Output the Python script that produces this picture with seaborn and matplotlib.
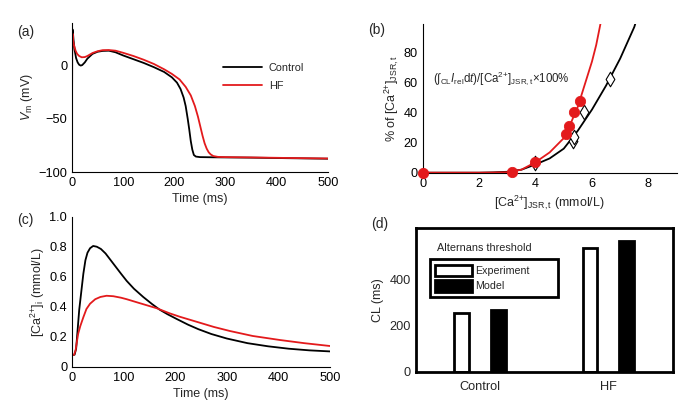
import numpy as np
import pandas as pd
import matplotlib
matplotlib.use("Agg")
import matplotlib.pyplot as plt
import seaborn as sns
from matplotlib.patches import Patch

# ---------------- data ----------------
# (a) action potentials
ap_t_control = [0, 0.3, 1, 2, 3, 5, 8, 11, 14, 17, 20, 25, 30, 40, 50, 60, 72, 85, 100, 120, 140, 160,
                180, 195, 205, 212, 218, 222, 226, 229, 232, 235, 238, 242, 250, 280, 350, 420, 500]
ap_v_control = [-86, 10, 34, 30, 24, 15, 7, 3, 0.8, 0, 0.5, 3, 6.5, 11, 13, 13.8, 14, 12.5, 9.5, 6, 2.5, -1.5,
                -6, -11, -16, -22, -30, -38, -50, -60, -71, -79, -84, -85.5, -86, -86.2, -86.5, -87, -87.5]
ap_t_hf = [0, 0.3, 1, 2, 4, 7, 10, 14, 19, 25, 30, 40, 50, 60, 72, 85, 100, 120, 140, 160, 180, 195, 210,
           222, 232, 240, 246, 251, 255, 259, 263, 267, 271, 276, 285, 300, 350, 420, 500]
ap_v_hf = [-86, 10, 30, 24, 19, 14, 11, 9, 7.8, 8, 9, 11.8, 13.5, 14.5, 14.6, 14, 12, 9, 5.5, 1.5, -3.5, -7.8, -13,
           -20, -28, -38, -48, -58, -66, -73, -78, -81.5, -83.5, -85, -85.8, -86, -86.3, -86.8, -87.3]

# (b) fractional release
fit_x_control = [0, 1, 2, 2.5, 3, 3.5, 4, 4.5, 5, 5.5, 6, 6.5, 7, 7.5, 7.6]
fit_y_control = [0, 0, 0, 0.2, 0.6, 2, 5.5, 9.5, 16, 28, 42, 58, 76, 97, 103]
fit_x_hf = [0, 1, 2, 2.5, 3, 3.5, 4, 4.5, 5, 5.25, 5.5, 5.75, 6, 6.15, 6.3, 6.35]
fit_y_hf = [0, 0, 0, 0.1, 0.3, 2, 7, 13.5, 23, 33, 44, 59, 74, 85, 99, 104]
model_x = [0, 3.16, 3.98, 5.08, 5.19, 5.38, 5.58]
model_y = [0, 0.5, 7.4, 25.6, 31.3, 40.7, 48]
exp_x = [3.98, 5.31, 5.38, 5.70, 6.64]
exp_y = [6.3, 21.3, 23.6, 40.3, 62.5]

# (c) calcium transients
ca_t_control = [0, 5, 8, 11, 14, 18, 22, 26, 30, 35, 41, 48, 56, 65, 75, 85, 95, 106, 120, 138, 155, 170,
                185, 203, 225, 245, 270, 300, 340, 380, 420, 460, 500]
ca_v_control = [0.078, 0.08, 0.12, 0.25, 0.38, 0.50, 0.62, 0.71, 0.76, 0.79, 0.805, 0.80, 0.785, 0.755,
                0.71, 0.665, 0.62, 0.572, 0.52, 0.465, 0.418, 0.38, 0.35, 0.318, 0.28, 0.25, 0.218,
                0.188, 0.157, 0.136, 0.12, 0.109, 0.102]
ca_t_hf = [0, 4, 7, 9, 12, 16, 22, 28, 35, 45, 55, 67, 80, 95, 106, 130, 164, 190, 209, 245, 275, 306, 350,
           403, 450, 500]
ca_v_hf = [0.078, 0.08, 0.11, 0.156, 0.22, 0.27, 0.33, 0.385, 0.42, 0.45, 0.465, 0.473, 0.47, 0.46, 0.45,
           0.425, 0.39, 0.355, 0.333, 0.296, 0.265, 0.238, 0.205, 0.178, 0.157, 0.138]

# (d) alternans threshold
conditions = ["Control", "Control", "HF", "HF"]
sources = ["Experiment", "Model", "Experiment", "Model"]
cl_values = [255, 268, 533, 566]

# ---------------- style ----------------
sns.set_style("white")
FONT = "Liberation Sans"
plt.rcParams["font.family"] = [FONT, "DejaVu Sans"]
plt.rcParams["mathtext.fontset"] = "custom"
plt.rcParams["mathtext.rm"] = FONT
plt.rcParams["mathtext.it"] = FONT + ":italic"
plt.rcParams["mathtext.bf"] = FONT + ":bold"
plt.rcParams["mathtext.sf"] = FONT

RED = "#e31a1c"
FS = 9.2      # tick labels
LFS = 9       # axis labels

fig = plt.figure(figsize=(6.97, 4.17), dpi=100)

CA = r"[Ca$^{2{+}}$]"


def style_axes(ax):
    for s in ["top", "right"]:
        ax.spines[s].set_visible(False)
    for s in ["left", "bottom"]:
        ax.spines[s].set_color("black")
        ax.spines[s].set_linewidth(0.8)
    ax.tick_params(direction="in", length=3, width=0.8, labelsize=FS, colors="black")


# (a)
axa = fig.add_axes([0.1033, 0.5875, 0.3673, 0.3573])
sns.lineplot(x=ap_t_control, y=ap_v_control, color="black", lw=1.3, label="Control",
             estimator=None, sort=False, ax=axa)
sns.lineplot(x=ap_t_hf, y=ap_v_hf, color=RED, lw=1.3, label="HF",
             estimator=None, sort=False, ax=axa)
axa.set_xlim(0, 500)
axa.set_ylim(-100, 40)
axa.set_xticks([0, 100, 200, 300, 400, 500])
axa.set_yticks([-100, -50, 0])
axa.set_yticklabels(["\u2212100", "\u221250", "0"])
axa.set_xlabel("Time (ms)", fontsize=LFS, labelpad=3)
axa.set_ylabel(r"$V_\mathrm{m}$ (mV)", fontsize=LFS, labelpad=2)
style_axes(axa)
axa.legend(loc="upper left", bbox_to_anchor=(0.553, 0.80), frameon=False, handlelength=3.6,
           fontsize=7.8, labelspacing=0.75, handletextpad=0.6)

# (b)
axb = fig.add_axes([0.6065, 0.5859, 0.3642, 0.3565])
sns.lineplot(x=fit_x_control, y=fit_y_control, color="black", lw=1.3, estimator=None, sort=False, ax=axb)
sns.lineplot(x=fit_x_hf, y=fit_y_hf, color=RED, lw=1.3, estimator=None, sort=False, ax=axb)
sns.scatterplot(x=model_x, y=model_y, color=RED, edgecolor=RED, s=55, marker="o", zorder=5,
                clip_on=False, ax=axb)
sns.scatterplot(x=exp_x, y=exp_y, facecolor="white", edgecolor="black", linewidth=0.8, s=55,
                marker="d", zorder=4, clip_on=False, ax=axb)
axb.set_xlim(0, 9)
axb.set_ylim(0, 99)
axb.set_xticks([0, 2, 4, 6, 8])
axb.set_yticks([0, 20, 40, 60, 80])
axb.set_xlabel(CA + r"$_\mathrm{JSR,t}$ (mmol/L)", fontsize=LFS, labelpad=3)
axb.set_ylabel("% of " + CA + r"$_\mathrm{JSR,t}$", fontsize=LFS, labelpad=2)
style_axes(axb)
axb.text(0.37, 63, "(\u222b$_\\mathrm{CL}$$I_\\mathrm{rel}$d$t$)/" + CA + "$_\\mathrm{JSR,t}$\u00d7100%",
         fontsize=8.3, va="center", ha="left")

# (c)
axc = fig.add_axes([0.1033, 0.1206, 0.3702, 0.3597])
sns.lineplot(x=ca_t_control, y=ca_v_control, color="black", lw=1.3, estimator=None, sort=False, ax=axc)
sns.lineplot(x=ca_t_hf, y=ca_v_hf, color=RED, lw=1.3, estimator=None, sort=False, ax=axc)
axc.set_xlim(0, 500)
axc.set_ylim(0, 1.0)
axc.set_xticks([0, 100, 200, 300, 400, 500])
axc.set_yticks([0, 0.2, 0.4, 0.6, 0.8, 1.0])
axc.set_yticklabels(["0", "0.2", "0.4", "0.6", "0.8", "1.0"])
axc.set_xlabel("Time (ms)", fontsize=LFS, labelpad=3)
axc.set_ylabel(CA + r"$_\mathrm{i}$ (mmol/L)", fontsize=LFS, labelpad=2)
style_axes(axc)

# (d)
axd = fig.add_axes([0.5964, 0.1086, 0.3687, 0.3439])
df = pd.DataFrame({"cond": conditions, "source": sources, "CL": cl_values})
sns.barplot(data=df, x="cond", y="CL", hue="source",
            palette={"Experiment": "white", "Model": "black"},
            edgecolor="black", linewidth=2, width=0.57, gap=0.6, legend=False, ax=axd)
axd.set_xlim(-0.5, 1.5)
axd.set_ylim(0, 620)
axd.set_yticks([0, 200, 400])
axd.set_xlabel("")
axd.set_ylabel("CL (ms)", fontsize=LFS, labelpad=4)
for s in axd.spines.values():
    s.set_visible(True)
    s.set_color("black")
    s.set_linewidth(2)
axd.tick_params(axis="y", direction="in", length=3, width=1, labelsize=FS)
axd.tick_params(axis="x", length=0, labelsize=FS, pad=7)
handles = [Patch(facecolor="white", edgecolor="black", linewidth=2),
           Patch(facecolor="black", edgecolor="black", linewidth=2)]
leg = axd.legend(handles, ["Experiment", "Model"], loc="upper left",
                 bbox_to_anchor=(0.056, 0.49, 0.498, 0.294), mode="expand",
                 handlelength=3.4, handleheight=1.25, fontsize=7.7, frameon=True, fancybox=False,
                 edgecolor="black", borderpad=0.5, labelspacing=0.4, handletextpad=0.35,
                 borderaxespad=0)
leg.get_frame().set_linewidth(2)
leg.get_frame().set_alpha(1)
axd.text(0.083, 0.863, "Alternans threshold", transform=axd.transAxes, fontsize=7.8,
         va="center", ha="left")

# panel labels
fig.text(0.024, 0.924, "(a)", fontsize=10, va="center", ha="left")
fig.text(0.528, 0.928, "(b)", fontsize=10, va="center", ha="left")
fig.text(0.024, 0.472, "(c)", fontsize=10, va="center", ha="left")
fig.text(0.532, 0.463, "(d)", fontsize=10, va="center", ha="left")

fig.savefig("out.png", dpi=100)
